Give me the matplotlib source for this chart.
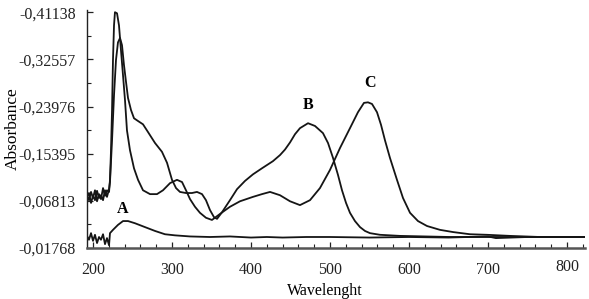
import matplotlib
matplotlib.use("Agg")
import matplotlib.pyplot as plt
from matplotlib.ticker import MultipleLocator

# wavelength (nm) / absorbance
wl_a = [192.4, 194.9, 197.5, 200.0, 202.5, 205.1, 207.6, 210.1, 212.7, 215.2, 217.7, 220.3,
        221.5, 225.3, 231.6, 238.0, 244.3, 253.2, 265.8, 278.5, 291.1, 303.8, 322.8, 348.1,
        373.4, 400.0, 420.0, 440.0, 470.0, 500.0, 550.0, 600.0, 650.0, 700.0, 710.0, 750.0, 822.8]
abs_a = [0.022, 0.015, 0.027, 0.013, 0.024, 0.009, 0.020, 0.015, 0.025, 0.007, 0.018, 0.005,
         0.027, 0.033, 0.042, 0.049, 0.049, 0.045, 0.038, 0.031, 0.025, 0.023, 0.021, 0.020,
         0.021, 0.019, 0.020, 0.019, 0.020, 0.020, 0.019, 0.020, 0.019, 0.021, 0.018, 0.020, 0.020]

wl_b = [192.4, 194.9, 197.5, 200.0, 202.5, 205.1, 207.6, 210.1, 212.7, 215.2, 217.7, 220.3,
        221.5, 224.1, 226.6, 229.1, 231.6, 234.2, 236.7, 239.2, 241.8, 244.3, 248.1, 251.9,
        257.0, 263.3, 269.6, 278.5, 287.3, 293.7, 300.0, 305.1, 310.1, 317.7, 325.3, 331.6,
        338.0, 343.0, 348.1, 353.2, 357.0, 363.3, 373.4, 382.3, 392.4, 402.5, 413.9, 427.8,
        436.7, 443.0, 449.4, 455.7, 462.0, 472.2, 481.0, 491.1, 497.5, 503.8, 510.1, 515.2,
        520.3, 525.3, 531.6, 538.0, 544.3, 550.6, 563.3, 588.6, 651.9, 822.8]
abs_b = [0.093, 0.100, 0.082, 0.095, 0.087, 0.104, 0.091, 0.096, 0.087, 0.105, 0.093, 0.107,
         0.120, 0.196, 0.278, 0.342, 0.374, 0.382, 0.369, 0.333, 0.302, 0.273, 0.251, 0.236,
         0.231, 0.225, 0.211, 0.191, 0.175, 0.155, 0.124, 0.109, 0.102, 0.100, 0.100, 0.102,
         0.098, 0.087, 0.069, 0.056, 0.053, 0.065, 0.087, 0.107, 0.122, 0.134, 0.145, 0.158,
         0.169, 0.179, 0.192, 0.207, 0.218, 0.227, 0.222, 0.209, 0.191, 0.164, 0.133, 0.105,
         0.082, 0.064, 0.049, 0.038, 0.031, 0.027, 0.024, 0.022, 0.020, 0.020]

wl_c = [192.4, 194.9, 197.5, 200.0, 202.5, 205.1, 207.6, 210.1, 212.7, 215.2, 217.7, 220.3,
        221.5, 222.8, 224.1, 225.3, 226.6, 227.8, 230.4, 232.9, 235.4, 238.0, 240.5, 243.0,
        246.8, 251.9, 257.0, 263.3, 272.2, 281.0, 288.6, 297.5, 306.3, 312.7, 317.7, 322.8,
        329.1, 335.4, 343.0, 350.6, 360.8, 373.4, 386.1, 402.5, 413.9, 424.1, 436.7, 449.4,
        462.0, 474.7, 487.3, 500.0, 512.7, 525.3, 535.4, 543.0, 548.1, 553.2, 559.5, 564.6,
        569.6, 575.9, 584.8, 592.4, 601.3, 611.4, 622.8, 639.2, 655.7, 677.2, 698.7, 727.8,
        765.8, 822.8]
abs_c = [0.096, 0.087, 0.102, 0.091, 0.105, 0.085, 0.098, 0.089, 0.109, 0.095, 0.105, 0.102,
         0.124, 0.178, 0.251, 0.342, 0.405, 0.429, 0.427, 0.405, 0.360, 0.314, 0.269, 0.214,
         0.178, 0.145, 0.124, 0.105, 0.098, 0.098, 0.105, 0.118, 0.124, 0.120, 0.105, 0.089,
         0.075, 0.064, 0.055, 0.051, 0.062, 0.075, 0.085, 0.093, 0.098, 0.102, 0.096, 0.085,
         0.078, 0.087, 0.109, 0.142, 0.182, 0.218, 0.247, 0.264, 0.265, 0.262, 0.247, 0.224,
         0.196, 0.164, 0.124, 0.091, 0.064, 0.049, 0.040, 0.033, 0.029, 0.025, 0.024, 0.022,
         0.020, 0.020]

ytick_vals = [0.0, 0.0858, 0.1716, 0.2574, 0.3432, 0.4290]
ytick_labels = ["-0,01768", "-0,06813", "-0,15395", "-0,23976", "-0,32557", "-0,41138"]
xtick_vals = [200, 300, 400, 500, 600, 700, 800]

plt.rcParams["font.family"] = ["Liberation Serif", "DejaVu Serif"]

fig = plt.figure(figsize=(5.89, 2.99), dpi=100)
ax = fig.add_axes([0.1477, 0.1706, 0.8455, 0.796])

for wl, ab in [(wl_a, abs_a), (wl_b, abs_b), (wl_c, abs_c)]:
    ax.plot(wl, ab, color="#151515", lw=1.3)

ax.set_xlim(192.4, 822.8)
ax.set_ylim(0, 0.433)

ax.set_xticks(xtick_vals)
ax.xaxis.set_minor_locator(MultipleLocator(20))
ax.set_yticks(ytick_vals)
ax.set_yticklabels(ytick_labels)
ax.yaxis.set_minor_locator(MultipleLocator(0.0429))

ax.tick_params(which="both", direction="in", colors="#222222", labelsize=11.5)
ax.tick_params(which="major", length=4, width=0.9)
ax.tick_params(which="minor", length=3, width=0.8)
ax.tick_params(axis="y", pad=8)
ax.tick_params(axis="x", pad=10)

# the 800 label sits a little higher in the scan
ax.get_xticklabels()[-1].set_y(0.013)

for s in ["top", "right"]:
    ax.spines[s].set_visible(False)
ax.spines["left"].set_color("#222222")
ax.spines["left"].set_linewidth(1.0)
ax.spines["bottom"].set_color("#555555")
ax.spines["bottom"].set_linewidth(1.8)

ax.set_xlabel("Wavelenght", fontsize=11.5)
ax.xaxis.set_label_coords(0.478, -0.18)
ax.xaxis.label.set_va("center")
ax.set_ylabel("Absorbance", fontsize=12.5)
ax.yaxis.set_label_coords(-0.148, 0.5)
ax.yaxis.label.set_va("center")

ax.text(238, 0.071, "A", fontsize=11.5, fontweight="bold", ha="center", va="center")
ax.text(472, 0.260, "B", fontsize=11.5, fontweight="bold", ha="center", va="center")
ax.text(550.6, 0.300, "C", fontsize=11.5, fontweight="bold", ha="center", va="center")

fig.savefig("out.png", dpi=100)
